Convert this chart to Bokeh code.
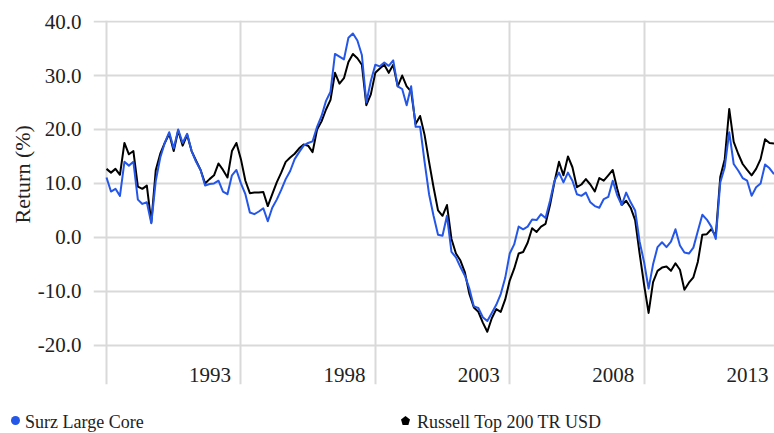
import numpy as np
from bokeh.plotting import figure
from bokeh.layouts import column
from bokeh.models import (ColumnDataSource, FixedTicker, Range1d, Title, Div,
                          PrintfTickFormatter, CustomJSTickFormatter)
from bokeh.embed import file_html
from bokeh.resources import INLINE

# ---- data (bi-monthly samples) ----
start_year = 1989.0
step_years = 2.0 / 12.0

surz_large_core = [
    11.1, 8.5, 9.0, 7.7, 14.0, 13.3, 14.0, 7.0, 6.2, 6.5, 2.6, 10.5, 14.8, 17.5, 19.5, 16.5,
    20.0, 17.5, 19.2, 16.0, 14.0, 12.5, 9.6, 9.9, 10.0, 10.5, 8.5, 8.0, 11.5, 12.5, 10.0,
    8.0, 4.6, 4.3, 4.8, 5.4, 3.0, 5.5, 7.0, 8.8, 10.8, 12.3, 14.5, 15.8, 17.0, 17.5,
    17.8, 20.5, 22.5, 25.3, 27.0, 34.0, 33.5, 33.0, 37.0, 37.8, 36.5, 33.8, 25.0, 29.0, 32.0,
    31.7, 32.4, 31.8, 32.8, 28.0, 27.5, 24.5, 28.0, 20.5, 20.5, 14.0, 8.0, 4.0, 0.5, 0.3,
    4.0, -2.7, -3.7, -5.5, -7.1, -9.5, -12.8, -13.1, -14.8, -15.5, -14.0, -12.5, -10.5, -7.5, -3.0,
    -1.3, 2.0, 1.5, 2.0, 3.3, 3.2, 4.3, 3.6, 6.8, 10.5, 12.0, 10.2, 12.0, 10.5, 8.0,
    7.7, 8.3, 6.5, 5.8, 5.5, 7.1, 7.5, 10.5, 7.8, 6.0, 8.3, 6.5, 5.0, -0.8, -4.6,
    -9.5, -5.0, -1.8, -0.9, -1.8, -0.8, 1.5, -1.5, -2.8, -3.0, -1.9, 1.2, 4.2, 3.3, 2.0,
    -0.3, 10.2, 13.0, 19.5, 13.6, 12.4, 11.0, 10.5, 7.7, 9.3, 10.0, 13.5, 12.8, 11.7,
]

russell_top_200 = [
    12.7, 12.0, 12.7, 11.6, 17.5, 15.4, 16.0, 9.4, 9.0, 9.6, 2.8, 12.5, 15.5, 17.5, 19.2, 16.0,
    19.8, 17.0, 19.0, 16.0, 14.2, 12.5, 10.0, 10.8, 11.5, 13.7, 12.5, 11.1, 16.0, 17.5, 14.5,
    10.5, 8.2, 8.3, 8.3, 8.4, 5.8, 8.0, 10.2, 12.0, 14.0, 14.8, 15.5, 16.5, 17.2, 17.0,
    15.8, 20.0, 21.5, 23.7, 25.5, 30.5, 28.5, 29.5, 32.5, 34.0, 33.2, 32.0, 24.5, 26.5, 30.5,
    31.3, 32.0, 30.5, 32.0, 28.0, 30.0, 28.0, 27.0, 21.0, 22.5, 19.0, 14.0, 9.3, 5.0, 4.0,
    6.0, -0.3, -3.0, -4.3, -6.5, -10.5, -13.0, -13.8, -15.8, -17.5, -15.0, -13.3, -13.8, -11.5, -8.0,
    -5.8, -3.0, -2.7, -1.0, 1.7, 1.0, 2.0, 2.5, 6.0, 10.3, 14.0, 11.5, 15.0, 13.0, 9.3,
    9.8, 10.8, 9.8, 8.5, 11.0, 10.5, 11.5, 12.5, 9.0, 6.0, 6.8, 5.5, 3.2, -3.0, -8.8,
    -14.0, -8.3, -6.2, -5.6, -5.4, -6.2, -4.8, -6.0, -9.7, -8.4, -7.4, -4.5, 0.5, 0.6, 1.5,
    0.3, 11.2, 14.5, 23.8, 17.7, 15.5, 13.6, 12.5, 11.5, 12.7, 14.5, 18.2, 17.5, 17.4,
]

dates = start_year + np.arange(len(surz_large_core)) * step_years

label_years = [1993, 1998, 2003, 2008, 2013]
grid_years = [1989, 1994, 1999, 2004, 2009]
y_ticks = [-20, -10, 0, 10, 20, 30, 40]
series_names = ["Surz Large Core", "Russell Top 200 TR USD"]
y_title = "Return (%)"

BLUE = "#2456e8"
BLACK = "#000000"
GRID = "#d9d9d9"
TEXT = "#222222"
FONT = "Liberation Serif"

src = ColumnDataSource(dict(x=dates, surz=surz_large_core, russell=russell_top_200))

p = figure(width=774, height=403,
           x_range=Range1d(1988.516, 2013.851), y_range=Range1d(-27.27, 40.2),
           output_backend="svg", toolbar_location=None,
           min_border_left=93, min_border_right=0, min_border_top=20, min_border_bottom=19)
p.outline_line_color = None
p.background_fill_color = "white"

p.line("x", "russell", source=src, color=BLACK, line_width=2, line_join="round")
p.line("x", "surz", source=src, color=BLUE, line_width=2, line_join="round")

# grids
p.xgrid.ticker = FixedTicker(ticks=grid_years)
p.xgrid.grid_line_color = GRID
p.xgrid.grid_line_width = 2
p.ygrid.grid_line_color = GRID
p.ygrid.grid_line_width = 2

# y axis
yax = p.yaxis[0]
yax.ticker = FixedTicker(ticks=y_ticks)
yax.formatter = PrintfTickFormatter(format="%.1f")
yax.axis_line_color = None
yax.major_tick_line_color = None
yax.minor_tick_line_color = None
yax.major_tick_out = 0
yax.major_tick_in = 0
yax.major_label_standoff = 12
yax.major_label_text_font = FONT
yax.major_label_text_font_size = "21px"
yax.major_label_text_color = TEXT

# y title (vertical), anchored from the bottom of the frame
p.add_layout(Title(text=y_title, align="left", offset=161, standoff=0,
                   text_font=FONT, text_font_size="22px", text_font_style="normal",
                   text_color=TEXT), "left")

# x axis: labels sit just left of the year-end gridlines, inside the frame
label_shift = 0.15
xax = p.xaxis[0]
xax.ticker = FixedTicker(ticks=[y - label_shift for y in label_years])
xax.formatter = CustomJSTickFormatter(args=dict(shift=label_shift),
                                      code="return Math.round(tick + shift).toFixed(0)")
xax.axis_line_color = None
xax.major_tick_line_color = None
xax.minor_tick_line_color = None
xax.major_tick_out = 0
xax.major_tick_in = 0
xax.major_label_standoff = -17
xax.major_label_text_font = FONT
xax.major_label_text_font_size = "21px"
xax.major_label_text_color = TEXT

# ---- legend strip under the chart ----
legend_html = (
    f'<div style="position:relative;width:774px;height:30px;font-family:\'{FONT}\',serif;'
    f'font-size:18px;line-height:18px;color:{TEXT};white-space:nowrap;">'
    f'<span style="position:absolute;left:11px;top:13px;width:9px;height:9px;'
    f'border-radius:50%;background:{BLUE};"></span>'
    f'<span style="position:absolute;left:25px;top:10px;">{series_names[0]}</span>'
    f'<span style="position:absolute;left:401px;top:13px;width:9px;height:9px;background:{BLACK};'
    f'clip-path:polygon(50% 0%,100% 38%,82% 100%,18% 100%,0% 38%);"></span>'
    f'<span style="position:absolute;left:417px;top:10px;">{series_names[1]}</span>'
    f'</div>'
)
legend_div = Div(text=legend_html, width=774, height=30, margin=(0, 0, 0, 0))

layout = column(p, legend_div, spacing=0)
open("out.html", "w").write(file_html(layout, INLINE))
